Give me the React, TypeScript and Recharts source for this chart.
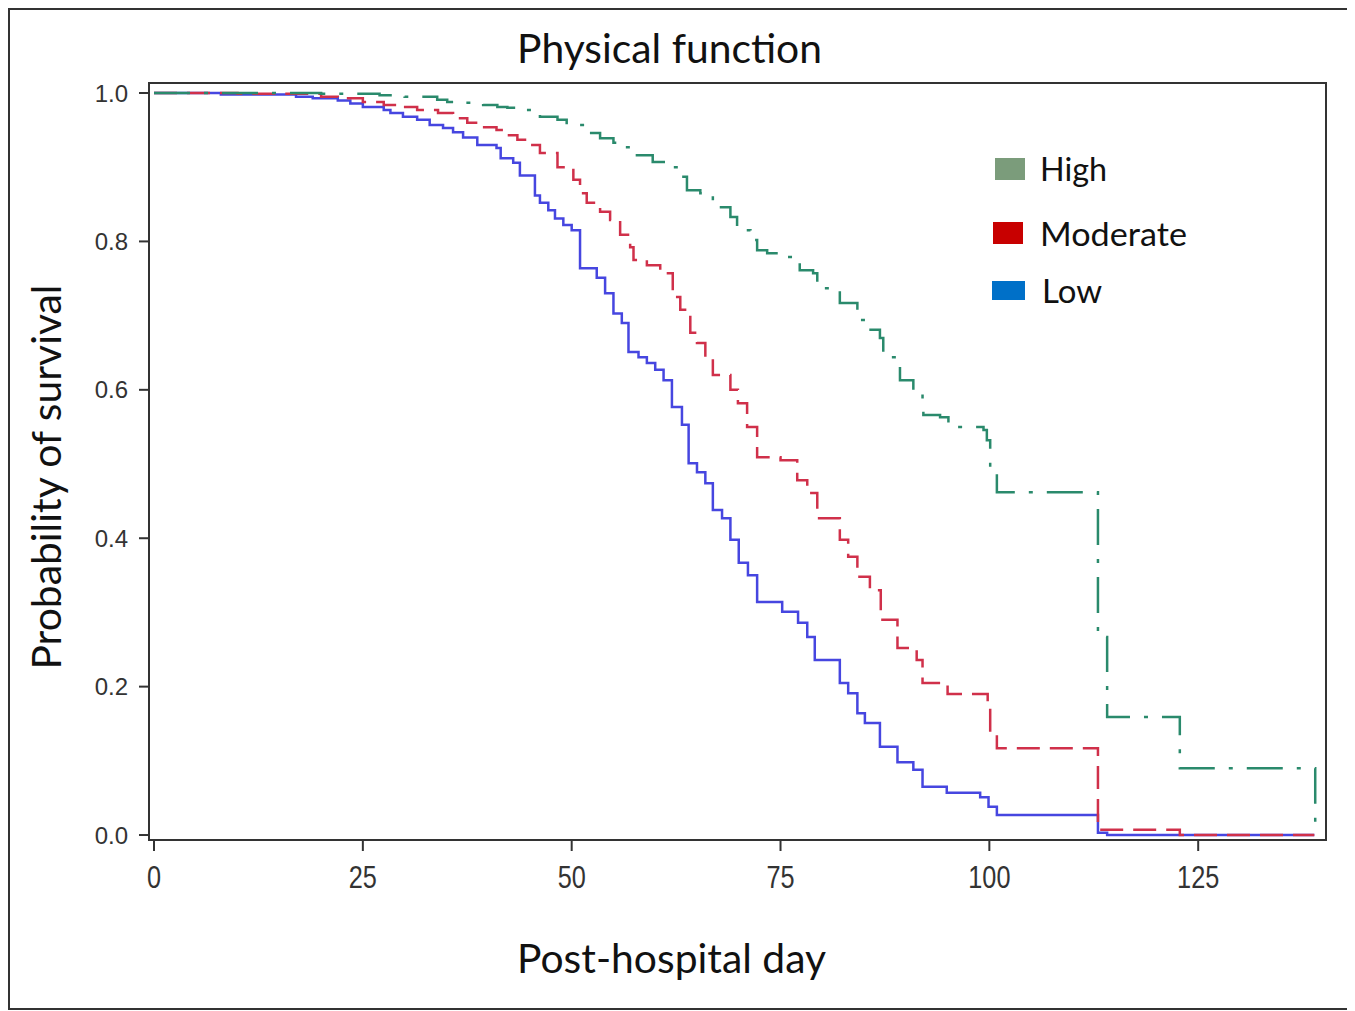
import { LineChart, Line, XAxis, YAxis, ReferenceArea } from "recharts";

type Pt = { day: number; s: number };

const xTicks = [0, 25, 50, 75, 100, 125];
const yTicks = [0, 0.2, 0.4, 0.6, 0.8, 1.0];

// Kaplan-Meier steps: [day, survival after the drop]
const lowSteps: [number, number][] = [
  [0, 1.0], [8, 0.998], [17, 0.995], [19, 0.993], [22, 0.99], [23.5, 0.986],
  [25, 0.981], [27.5, 0.977], [28.3, 0.973], [29.8, 0.968], [31.5, 0.964],
  [33, 0.957], [34.6, 0.953], [35.8, 0.947], [37, 0.94], [38.7, 0.93],
  [41, 0.926], [41.5, 0.912], [43, 0.906], [43.8, 0.889], [45.6, 0.862],
  [46.2, 0.852], [47.2, 0.842], [48, 0.831], [49, 0.822], [50, 0.815],
  [51, 0.764], [53, 0.751], [54, 0.73], [55, 0.703], [56, 0.69], [56.8, 0.651],
  [58, 0.644], [59, 0.636], [60, 0.627], [61, 0.613], [62, 0.577], [63.2, 0.553],
  [64, 0.501], [65, 0.489], [66, 0.474], [66.9, 0.438], [68, 0.427], [69, 0.398],
  [70, 0.367], [71.1, 0.35], [72.2, 0.314], [75.2, 0.301], [77.1, 0.286],
  [78.2, 0.267], [79.1, 0.236], [82.1, 0.205], [83.1, 0.191], [84.2, 0.164],
  [85.1, 0.151], [86.9, 0.119], [89, 0.098], [90.9, 0.088], [92, 0.065],
  [94.9, 0.057], [98.9, 0.051], [99.9, 0.038], [100.9, 0.027], [113, 0.003],
  [114.1, 0], [138.9, 0]
];

const moderateSteps: [number, number][] = [
  [0, 1.0], [10, 0.999], [20, 0.995], [22, 0.993], [25, 0.988], [27.5, 0.984],
  [29.5, 0.981], [31.5, 0.977], [34, 0.973], [35.8, 0.966], [37.5, 0.96],
  [39, 0.954], [41, 0.95], [41.8, 0.943], [43.5, 0.937], [45, 0.93], [46.2, 0.919],
  [48.3, 0.9], [50.2, 0.883], [51, 0.865], [51.8, 0.852], [53.4, 0.84],
  [54.6, 0.829], [55.8, 0.809], [57, 0.792], [57.4, 0.775], [59, 0.768],
  [60.6, 0.757], [62.1, 0.725], [63, 0.708], [64.2, 0.677], [65, 0.663],
  [66, 0.643], [66.9, 0.62], [69, 0.6], [69.9, 0.582], [71, 0.55], [72.2, 0.509],
  [75, 0.505], [77, 0.478], [78.2, 0.461], [79.4, 0.427], [82.1, 0.398],
  [83.1, 0.375], [84.2, 0.348], [85.7, 0.33], [87, 0.29], [89, 0.252],
  [91.3, 0.236], [92, 0.205], [95, 0.19], [99.8, 0.172], [100.1, 0.137],
  [100.9, 0.117], [113, 0.007], [122.8, 0], [138.9, 0]
];

const highSteps: [number, number][] = [
  [0, 1.0], [20, 0.999], [27, 0.997], [30, 0.995], [33.9, 0.991], [35.1, 0.988],
  [37, 0.987], [39.4, 0.984], [41.1, 0.981], [42.3, 0.98], [43.8, 0.977],
  [46.2, 0.968], [48.3, 0.964], [49.4, 0.957], [51.8, 0.946], [53.4, 0.939],
  [55, 0.933], [55.8, 0.927], [57.4, 0.916], [59.7, 0.907], [61.4, 0.9],
  [63, 0.887], [63.8, 0.869], [65.4, 0.865], [66.9, 0.846], [69, 0.833],
  [69.8, 0.815], [71.4, 0.802], [72.2, 0.788], [73.4, 0.784], [75.2, 0.779],
  [77, 0.775], [77.3, 0.761], [78.9, 0.757], [79.4, 0.737], [82.1, 0.717],
  [84.2, 0.705], [84.5, 0.694], [85.4, 0.681], [86.9, 0.67], [87.3, 0.644],
  [89, 0.637], [89.3, 0.613], [90.9, 0.6], [92, 0.582], [92.1, 0.566],
  [94.1, 0.563], [95.1, 0.55], [99.3, 0.546], [99.7, 0.532], [100.1, 0.492],
  [100.9, 0.462], [113, 0.274], [113.3, 0.267], [114.1, 0.159], [122.8, 0.09],
  [139, 0.09], [139.01, 0]
];

const toPts = (steps: [number, number][]): Pt[] => steps.map(([day, s]) => ({ day, s }));

const low = toPts(lowSteps);
const moderate = toPts(moderateSteps);
const high = toPts(highSteps);

const legendItems = [
  { label: "High", swatch: "#7b9c7b", x: 985, y: 148, w: 30, h: 22, tx: 1030, ty: 171, tl: 67 },
  { label: "Moderate", swatch: "#c80000", x: 983, y: 212, w: 30, h: 22, tx: 1030, ty: 236, tl: 147 },
  { label: "Low", swatch: "#0070c8", x: 982, y: 271, w: 33, h: 19, tx: 1032, ty: 293, tl: 60 }
];

const X_DOMAIN: [number, number] = [-0.6, 140.3];
const Y_DOMAIN: [number, number] = [-0.0067, 1.0135];

function XTick({ x, y, payload }: any) {
  return (
    <g transform={`translate(${x},${y + 35}) scale(0.79,1)`}>
      <text textAnchor="middle" fontFamily="'Liberation Sans', Arial, sans-serif" fontSize={32} fill="#333">
        {payload.value}
      </text>
    </g>
  );
}

function YTick({ x, y, payload }: any) {
  return (
    <text
      x={x}
      y={y}
      dy={8.5}
      textAnchor="end"
      fontFamily="'Liberation Sans', Arial, sans-serif"
      fontSize={24}
      fill="#333"
    >
      {Number(payload.value).toFixed(1)}
    </text>
  );
}

export default function App() {
  const font = "Lato, 'Open Sans', sans-serif";
  return (
    <div
      style={{
        position: "relative",
        width: 1341,
        height: 1002,
        border: "2px solid #333",
        boxSizing: "border-box",
        background: "#fff"
      }}
    >
      <LineChart width={1337} height={998} margin={{ top: 73, right: 21, bottom: 108, left: 0 }}>
        <XAxis
          type="number"
          dataKey="day"
          domain={X_DOMAIN}
          ticks={xTicks}
          allowDataOverflow
          height={60}
          tickSize={11}
          tick={<XTick />}
          axisLine={{ stroke: "#333", strokeWidth: 2 }}
          tickLine={{ stroke: "#333", strokeWidth: 2 }}
        />
        <YAxis
          type="number"
          dataKey="s"
          domain={Y_DOMAIN}
          ticks={yTicks}
          allowDataOverflow
          width={139}
          tickSize={10}
          tickMargin={11}
          tick={<YTick />}
          axisLine={{ stroke: "#333", strokeWidth: 2 }}
          tickLine={{ stroke: "#333", strokeWidth: 2 }}
        />
        <ReferenceArea
          x1={X_DOMAIN[0]}
          x2={X_DOMAIN[1]}
          y1={Y_DOMAIN[0]}
          y2={Y_DOMAIN[1]}
          fill="none"
          fillOpacity={0}
          stroke="#333"
          strokeWidth={2}
          ifOverflow="visible"
        />
        <Line
          data={low}
          dataKey="s"
          type="stepAfter"
          stroke="#4646e0"
          strokeWidth={2.5}
          dot={false}
          activeDot={false}
          isAnimationActive={false}
        />
        <Line
          data={moderate}
          dataKey="s"
          type="stepAfter"
          stroke="#d0304a"
          strokeWidth={2.5}
          strokeDasharray="23 10"
          dot={false}
          activeDot={false}
          isAnimationActive={false}
        />
        <Line
          data={high}
          dataKey="s"
          type="stepAfter"
          stroke="#2a8a6c"
          strokeWidth={2.5}
          strokeDasharray="36 14 4 14"
          dot={false}
          activeDot={false}
          isAnimationActive={false}
        />
      </LineChart>
      <svg
        width={1337}
        height={998}
        style={{ position: "absolute", left: 0, top: 0, pointerEvents: "none" }}
      >
        <text
          x={659.5}
          y={53}
          textAnchor="middle"
          fontFamily={font}
          fontSize={41}
          fill="#111"
          textLength={305}
          lengthAdjust="spacingAndGlyphs"
        >
          Physical function
        </text>
        <text
          transform="translate(51,467) rotate(-90)"
          textAnchor="middle"
          fontFamily={font}
          fontSize={41}
          fill="#111"
          textLength={385}
          lengthAdjust="spacingAndGlyphs"
        >
          Probability of survival
        </text>
        <text
          x={661.5}
          y={963}
          textAnchor="middle"
          fontFamily={font}
          fontSize={41}
          fill="#111"
          textLength={309}
          lengthAdjust="spacingAndGlyphs"
        >
          Post-hospital day
        </text>
        {legendItems.map((it) => (
          <g key={it.label}>
            <rect x={it.x} y={it.y} width={it.w} height={it.h} fill={it.swatch} />
            <text
              x={it.tx}
              y={it.ty}
              fontFamily={font}
              fontSize={32}
              fill="#111"
              textLength={it.tl}
              lengthAdjust="spacingAndGlyphs"
            >
              {it.label}
            </text>
          </g>
        ))}
      </svg>
    </div>
  );
}
